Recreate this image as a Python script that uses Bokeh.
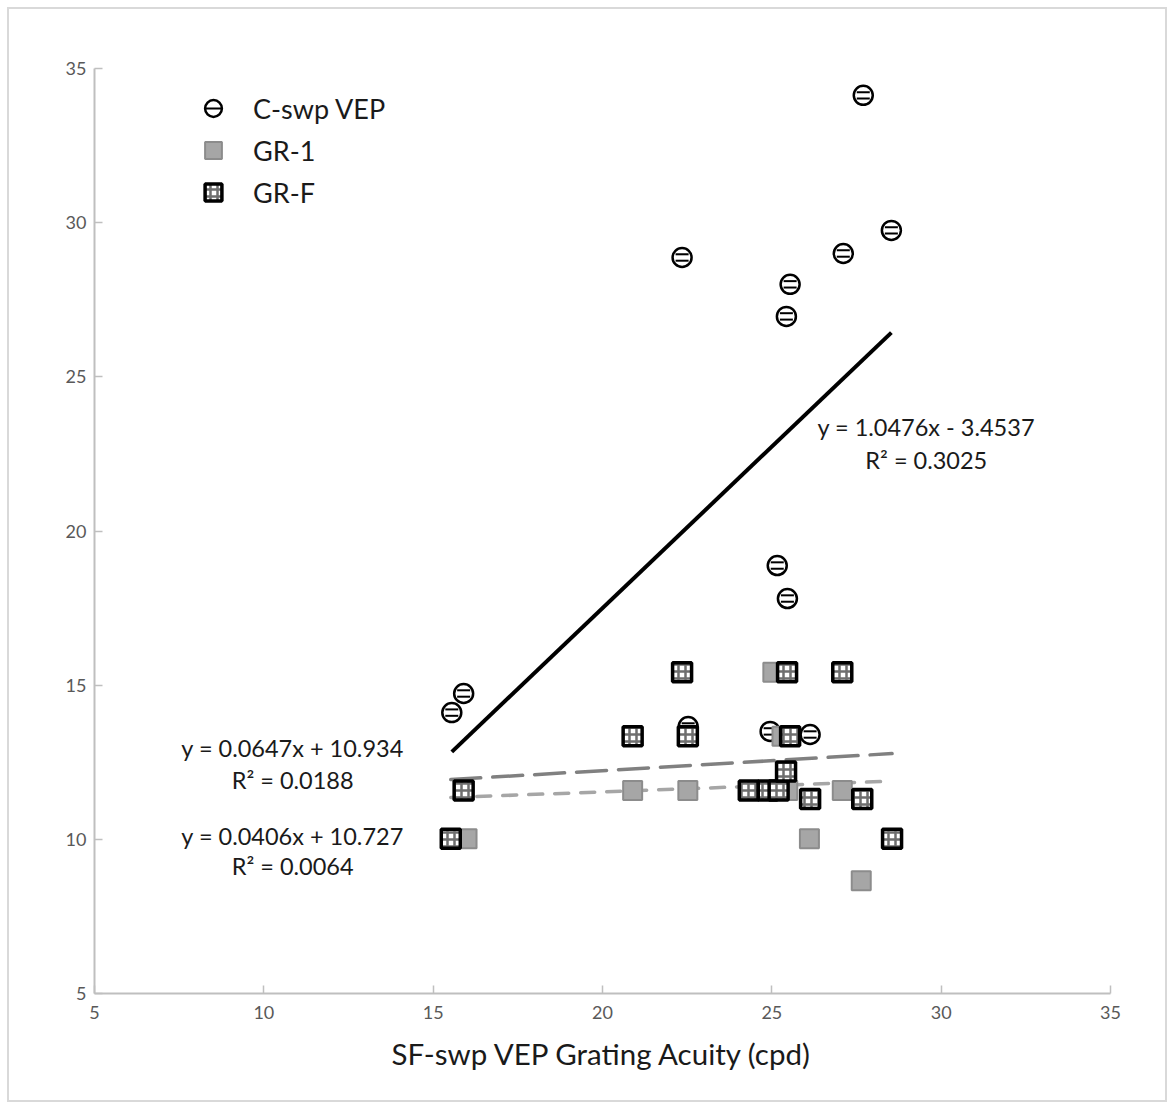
from bokeh.plotting import figure
from bokeh.models import Range1d, FixedTicker, Legend, LegendItem, Label
from bokeh.embed import file_html
from bokeh.resources import INLINE

FONT = "Lato"

# Axis ticks
x_ticks = [5, 10, 15, 20, 25, 30, 35]
y_ticks = [5, 10, 15, 20, 25, 30, 35]

# C-swp VEP vs SF-swp VEP grating acuity (cpd)
c_acuity = [15.55, 15.9, 22.35, 22.53, 24.95, 25.16, 25.43, 25.46, 25.54, 26.13, 27.11, 27.7, 28.53]
c_swp = [14.11, 14.73, 28.87, 13.66, 13.5, 18.88, 26.96, 17.81, 28.0, 13.4, 29.0, 34.13, 29.75]

# GR-1
gr1_acuity = [15.52, 16.0, 20.89, 22.52, 25.03, 25.3, 25.47, 26.11, 27.08, 27.64, 28.55]
gr1 = [10.02, 10.02, 11.58, 11.58, 15.42, 13.34, 11.58, 10.02, 11.58, 8.66, 10.02]

# GR-F
grf_acuity = [15.52, 15.9, 20.89, 22.35, 22.52, 24.32, 24.88, 25.2, 25.42, 25.45, 25.54, 26.13, 27.08, 27.67, 28.55]
grf = [10.02, 11.58, 13.34, 15.42, 13.34, 11.58, 11.58, 11.58, 12.2, 15.42, 13.34, 11.31, 15.42, 11.31, 10.02]

# Linear trendlines: C-swp VEP, GR-F, GR-1
fit_slope = [1.0476, 0.0647, 0.0406]
fit_intercept = [-3.4537, 10.934, 10.727]
fit_r2 = ["0.3025", "0.0188", "0.0064"]

legend_labels = ["C-swp VEP", "GR-1", "GR-F"]
x_title = "SF-swp VEP Grating Acuity (cpd)"

W, H = 1156, 1091
BL, BR, BT, BB = 85, 55, 59, 107

p = figure(width=W, height=H, x_range=Range1d(5, 35), y_range=Range1d(5, 35),
           output_backend="svg", toolbar_location=None,
           min_border_left=BL, min_border_right=BR, min_border_top=BT, min_border_bottom=BB)
p.margin = (9, 0, 0, 9)
p.styles = {"outline": "2px solid #d9d9d9"}
p.outline_line_color = None
p.xgrid.visible = False
p.ygrid.visible = False
p.background_fill_color = "white"
p.border_fill_color = "white"

for ax, ticks in ((p.xaxis[0], x_ticks), (p.yaxis[0], y_ticks)):
    ax.ticker = FixedTicker(ticks=ticks)
    ax.axis_line_color = "#bfbfbf"
    ax.axis_line_width = 2
    ax.major_tick_line_color = "#bfbfbf"
    ax.major_tick_line_width = 1.5
    ax.major_tick_in = 8
    ax.major_tick_out = 0
    ax.minor_tick_in = 0
    ax.minor_tick_out = 0
    ax.major_label_text_color = "#595959"
    ax.major_label_text_font = FONT
    ax.major_label_text_font_size = "18px"

p.yaxis[0].major_label_standoff = 8
p.xaxis[0].major_label_standoff = 12
p.xaxis[0].axis_label = x_title
p.xaxis[0].axis_label_text_font = FONT
p.xaxis[0].axis_label_text_font_style = "normal"
p.xaxis[0].axis_label_text_font_size = "29.5px"
p.xaxis[0].axis_label_text_color = "#1a1a1a"
p.xaxis[0].axis_label_standoff = 14

# trendlines spanning each series' x range
fit_x = [c_acuity, grf_acuity, gr1_acuity]
fit_style = [dict(line_color="black", line_width=4),
             dict(line_color="#808080", line_width=3.5, line_dash="30 12", line_cap="round"),
             dict(line_color="#a6a6a6", line_width=3.5, line_dash="14 12", line_cap="round")]
for xs, m, b, st in zip(fit_x, fit_slope, fit_intercept, fit_style):
    x0, x1 = min(xs), max(xs)
    p.line([x0, x1], [m * x0 + b, m * x1 + b], **st)

# C-swp VEP: open circles with horizontal stripes
frame_h = H - BT - BB
px_per_y = frame_h / (35 - 5)
stripe = 3.2 / px_per_y
c_r = p.scatter(c_acuity, c_swp, marker="circle", size=19, fill_color="white",
                line_color="black", line_width=2.5)
stripe_rs = []
for off in (-stripe, stripe):
    stripe_rs.append(p.scatter(c_acuity, [v + off for v in c_swp], marker="dash",
                               size=13, line_color="black", line_width=2))

# GR-1: grey squares
g1_r = p.scatter(gr1_acuity, gr1, marker="square", size=19, fill_color="#a6a6a6",
                 line_color="#8c8c8c", line_width=2)

# GR-F: black framed squares with patterned fill
gf_r = p.scatter(grf_acuity, grf, marker="square", size=19, fill_color="white",
                 line_color="black", line_width=3.5,
                 hatch_pattern="+", hatch_color="#6e6e6e", hatch_weight=2.5, hatch_scale=7)

legend = Legend(items=[LegendItem(label=legend_labels[0], renderers=[c_r, stripe_rs[0]]),
                       LegendItem(label=legend_labels[1], renderers=[g1_r]),
                       LegendItem(label=legend_labels[2], renderers=[gf_r])],
                location=(98, 780), glyph_width=42, glyph_height=42, label_height=42,
                spacing=0, padding=0, margin=0, label_standoff=19,
                label_text_font=FONT, label_text_font_size="27px", label_text_color="#1a1a1a",
                border_line_color=None, background_fill_alpha=0)
p.add_layout(legend, "center")

# trendline equations
label_pos = [(29.56, 23.36, 22.29), (10.85, 12.95, 11.94), (10.85, 10.12, 9.12)]
for (lx, ly1, ly2), m, b, r2 in zip(label_pos, fit_slope, fit_intercept, fit_r2):
    sign = "-" if b < 0 else "+"
    for ly, txt in ((ly1, f"y = {m}x {sign} {abs(b)}"), (ly2, f"R\u00b2 = {r2}")):
        p.add_layout(Label(x=lx, y=ly, text=txt, text_align="center", text_baseline="middle",
                           text_font=FONT, text_font_size="23.5px", text_color="#1a1a1a"))

open("out.html", "w").write(file_html(p, INLINE))
